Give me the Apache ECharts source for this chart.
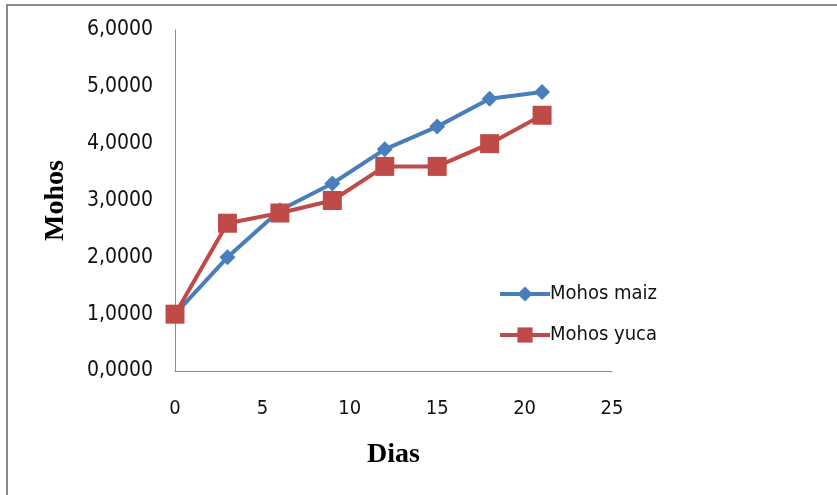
<!DOCTYPE html>
<html>
<head>
<meta charset="utf-8">
<script src="https://cdn.jsdelivr.net/npm/echarts@6/dist/echarts.min.js"></script>
<style>
  html, body { margin: 0; padding: 0; background: #fff; }
  #chart { width: 837px; height: 495px; }
</style>
</head>
<body>
<div id="chart"></div>
<script>
// Days of measurement
const dias = [0, 3, 6, 9, 12, 15, 18, 21];
// Mould counts per substrate
const mohosMaiz = [1.0, 2.0, 2.83, 3.3, 3.9, 4.3, 4.79, 4.91];
const mohosYuca = [1.0, 2.6, 2.78, 3.0, 3.6, 3.6, 4.0, 4.5];
const seriesNames = ['Mohos maiz', 'Mohos yuca'];
const xTicks = [0, 5, 10, 15, 20, 25];
const yTicks = [0, 1, 2, 3, 4, 5, 6];

const chart = echarts.init(document.getElementById('chart'));
const tickFont = '"DejaVu Sans Condensed", "Liberation Sans Narrow", sans-serif';
const titleFont = '"Liberation Serif", serif';

chart.setOption({
  animation: false,
  backgroundColor: '#fff',
  graphic: [{
    type: 'rect',
    shape: { x: 7, y: 5, width: 900, height: 600 },
    style: { fill: 'none', stroke: '#8a8a8a', lineWidth: 2 },
    silent: true
  }],
  grid: { left: 175, top: 30, right: 225, bottom: 124 },
  legend: {
    orient: 'vertical',
    left: 493,
    top: 279,
    itemWidth: 50,
    itemHeight: 19,
    itemGap: 21,
    data: seriesNames,
    lineStyle: { width: 4 },
    textStyle: { fontFamily: tickFont, fontSize: 20, color: '#111', padding: [0, 0, 0, -5] }
  },
  xAxis: {
    type: 'value',
    min: xTicks[0],
    max: xTicks[xTicks.length - 1],
    interval: 5,
    name: 'Dias',
    nameLocation: 'middle',
    nameGap: 70,
    nameTextStyle: { fontFamily: titleFont, fontWeight: 'bold', fontSize: 28, color: '#000' },
    axisLine: { show: true, lineStyle: { color: '#8c8c8c', width: 1 } },
    axisTick: { show: false },
    splitLine: { show: false },
    axisLabel: { margin: 28, fontFamily: tickFont, fontSize: 20, color: '#111' }
  },
  yAxis: {
    type: 'value',
    min: yTicks[0],
    max: yTicks[yTicks.length - 1],
    interval: 1,
    name: 'Mohos',
    nameLocation: 'middle',
    nameGap: 105,
    nameRotate: 90,
    nameTextStyle: { fontFamily: titleFont, fontWeight: 'bold', fontSize: 28, color: '#000' },
    axisLine: { show: true, lineStyle: { color: '#8c8c8c', width: 1 } },
    axisTick: { show: false },
    splitLine: { show: false },
    axisLabel: {
      margin: 22,
      fontFamily: tickFont,
      fontSize: 21,
      color: '#111',
      formatter: v => v.toFixed(4).replace('.', ',')
    }
  },
  series: [
    {
      name: seriesNames[0],
      type: 'line',
      data: dias.map((d, i) => [d, mohosMaiz[i]]),
      symbol: 'diamond',
      symbolSize: 16,
      color: '#4a7ebb',
      lineStyle: { width: 4, color: '#4a7ebb' },
      itemStyle: { color: '#4a7ebb' }
    },
    {
      name: seriesNames[1],
      type: 'line',
      data: dias.map((d, i) => [d, mohosYuca[i]]),
      symbol: 'rect',
      symbolSize: 19,
      color: '#be4b48',
      lineStyle: { width: 4, color: '#be4b48' },
      itemStyle: { color: '#be4b48' }
    }
  ]
});
</script>
</body>
</html>
